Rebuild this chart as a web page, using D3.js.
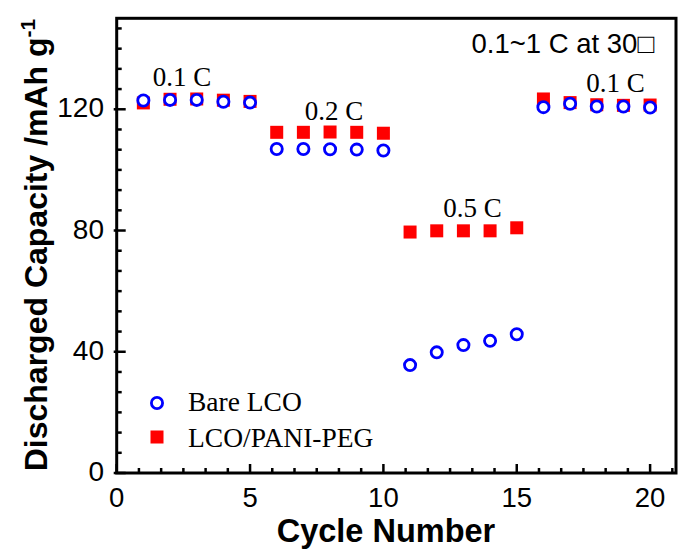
<!DOCTYPE html>
<html><head><meta charset="utf-8">
<script src="https://cdn.jsdelivr.net/npm/d3@7"></script>
<style>body{margin:0;background:#fff}svg{display:block}</style>
</head><body>
<svg id="c" width="678" height="551"></svg>
<script>
const cycles = [1,2,3,4,5,6,7,8,9,10,11,12,13,14,15,16,17,18,19,20];
const bareLCO = [122.9,123.1,123.1,122.5,122.2, 106.9,106.9,106.8,106.7,106.4, 35.6,39.8,42.2,43.6,45.8, 120.7,121.8,120.9,120.9,120.6];
const panipeg = [122.1,123.3,123.4,123.0,122.6, 112.4,112.4,112.5,112.4,112.1, 79.5,79.9,79.9,79.9,80.9, 123.4,122.2,121.5,121.3,121.4];
const xTicks = [0,5,10,15,20];
const yTicks = [0,40,80,120];
const rateLabels = [{t:"0.1 C",x:2.45,y:127.7},{t:"0.2 C",x:8.15,y:116.5},{t:"0.5 C",x:13.34,y:84.5},{t:"0.1 C",x:18.7,y:125.8}];

const svg = d3.select("#c");
const L=116.7, R=676, T=18.3, B=473;
const x = d3.scaleLinear().domain([0,21]).range([L, L+21*26.67]);
const y = d3.scaleLinear().domain([0,150]).range([B, B-150*3.031]);

const xMinor = d3.range(0, 21.01, 5/6).filter(v=>Math.abs(v/5-Math.round(v/5))>1e-6);
const yMinor = d3.range(0, 150.01, 40/6).filter(v=>Math.abs(v/40-Math.round(v/40))>1e-6);

const g = svg.append("g");
g.selectAll(".xm").data(xMinor).enter().append("line")
  .attr("x1",d=>x(d)).attr("x2",d=>x(d)).attr("y1",B).attr("y2",B-5)
  .attr("stroke","#000").attr("stroke-width",2.5);
g.selectAll(".xM").data(xTicks).enter().append("line")
  .attr("x1",d=>x(d)).attr("x2",d=>x(d)).attr("y1",B).attr("y2",B-9)
  .attr("stroke","#000").attr("stroke-width",2.5);
g.selectAll(".ym").data(yMinor).enter().append("line")
  .attr("y1",d=>y(d)).attr("y2",d=>y(d)).attr("x1",L).attr("x2",L+5)
  .attr("stroke","#000").attr("stroke-width",2.5);
g.selectAll(".yM").data(yTicks).enter().append("line")
  .attr("y1",d=>y(d)).attr("y2",d=>y(d)).attr("x1",L-3).attr("x2",L+9)
  .attr("stroke","#000").attr("stroke-width",2.5);

svg.append("rect").attr("x",L).attr("y",T).attr("width",R-L).attr("height",B-T)
  .attr("fill","none").attr("stroke","#000").attr("stroke-width",3);

g.selectAll(".xl").data(xTicks).enter().append("text")
  .attr("x",d=>x(d)).attr("y",507).attr("text-anchor","middle")
  .attr("font-family","Liberation Sans, Arial").attr("font-size",27.5).text(d=>d);
g.selectAll(".yl").data(yTicks).enter().append("text")
  .attr("x",104).attr("y",d=>y(d)+8).attr("text-anchor","end")
  .attr("font-family","Liberation Sans, Arial").attr("font-size",28).text(d=>d);

svg.append("text").attr("x",386).attr("y",542).attr("text-anchor","middle")
  .attr("font-family","Liberation Sans, Arial").attr("font-weight","bold").attr("font-size",32.5)
  .text("Cycle Number");
const yt = svg.append("text").attr("transform","translate(47,245) rotate(-90)").attr("text-anchor","middle")
  .attr("font-family","Liberation Sans, Arial").attr("font-weight","bold").attr("font-size",32);
yt.append("tspan").text("Discharged Capacity /mAh g");
yt.append("tspan").attr("dy",-12).attr("font-size",21).text("-1");

const sq = 13;
svg.selectAll(".sq").data(cycles).enter().append("rect")
  .attr("x",(d,i)=>x(d)-sq/2).attr("y",(d,i)=>y(panipeg[i])-sq/2)
  .attr("width",sq).attr("height",sq).attr("fill","#ff0000");
svg.selectAll(".ci").data(cycles).enter().append("circle")
  .attr("cx",d=>x(d)).attr("cy",(d,i)=>y(bareLCO[i])).attr("r",5.6)
  .attr("fill","#fff").attr("stroke","#0000ff").attr("stroke-width",2.8);

svg.selectAll(".rl").data(rateLabels).enter().append("text")
  .attr("x",d=>x(d.x)).attr("y",d=>y(d.y)).attr("text-anchor","middle")
  .attr("font-family","Liberation Serif, Times New Roman").attr("font-size",27).text(d=>d.t);

svg.append("text").attr("x",654).attr("y",53).attr("text-anchor","end")
  .attr("font-family","Liberation Sans, Arial").attr("font-size",27.5).text("0.1~1 C at 30\u25A1");

svg.append("circle").attr("cx",157).attr("cy",403).attr("r",5.6)
  .attr("fill","#fff").attr("stroke","#0000ff").attr("stroke-width",2.8);
svg.append("text").attr("x",188).attr("y",411).attr("font-family","Liberation Serif, Times New Roman")
  .attr("font-size",27.5).text("Bare LCO");
svg.append("rect").attr("x",157-6.5).attr("y",437-6.5).attr("width",13).attr("height",13).attr("fill","#ff0000");
svg.append("text").attr("x",188).attr("y",447).attr("font-family","Liberation Serif, Times New Roman")
  .attr("font-size",27.5).text("LCO/PANI-PEG");
</script>
</body></html>
